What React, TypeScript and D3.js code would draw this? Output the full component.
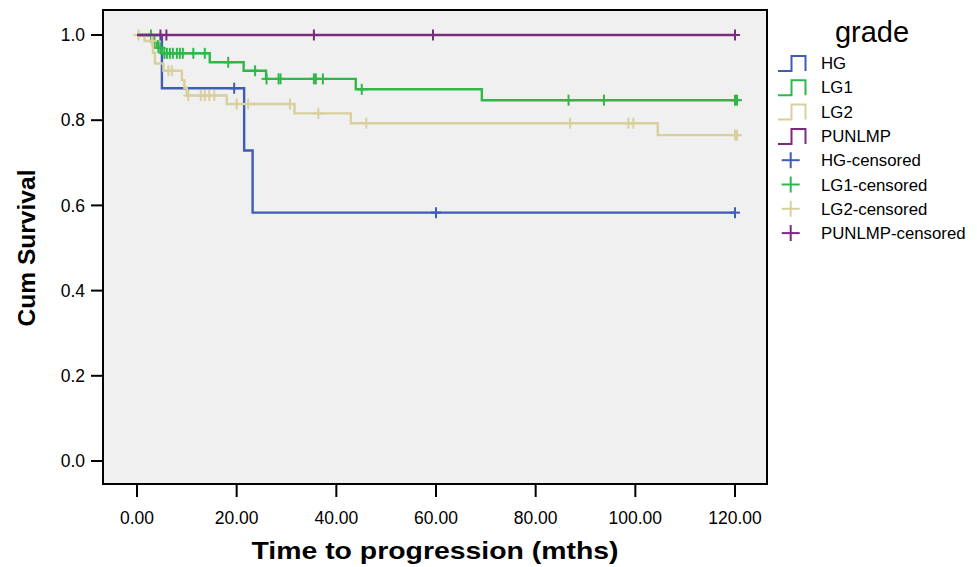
import React from "react";
import * as d3 from "d3";

// Kaplan-Meier curves: event times (months) and survival after each event
const hgTimes = [0, 5.0, 21.5, 23.2];
const hgSurv = [1, 0.875, 0.729, 0.583];
const hgCensored = [19.5, 60, 120];

const lg1Times = [0, 3.0, 4.0, 5.0, 14.6, 21.4, 25.9, 43.9, 69.2];
const lg1Surv = [1, 0.985, 0.97, 0.957, 0.936, 0.916, 0.897, 0.8725, 0.847];
const lg1Censored = [
  2.8, 3.5, 4.3, 4.7, 5.5, 6.0, 6.6, 7.2, 8.0, 8.6, 9.2, 11.3, 13.6, 18.3, 23.7,
  26.0, 28.4, 28.8, 35.5, 35.9, 37.3, 45.1, 86.6, 93.7, 120, 120.4,
];

const lg2Times = [0, 1.5, 3.2, 3.6, 5.3, 9.0, 9.5, 10.0, 18.0, 31.6, 42.9, 104.5];
const lg2Surv = [1, 0.986, 0.958, 0.933, 0.916, 0.894, 0.876, 0.858, 0.838, 0.816, 0.793, 0.765];
const lg2Censored = [
  0.3, 3.0, 6.3, 7.0, 10.3, 12.8, 13.6, 14.5, 15.5, 20.0, 22.3, 30.7, 36.4, 46.0,
  86.9, 98.6, 99.6, 120, 120.4,
];

const punTimes = [0];
const punSurv = [1];
const punCensored = [4.7, 5.9, 35.5, 59.4, 120];

const groupNames = ["HG", "LG1", "LG2", "PUNLMP"];
const groupColors = ["#3f5cb6", "#2fb84a", "#d8d09c", "#7b2a7f"];
const xTicks = [0, 20, 40, 60, 80, 100, 120];
const yTicks = [0, 0.2, 0.4, 0.6, 0.8, 1.0];

const series = [
  { times: hgTimes, surv: hgSurv, censored: hgCensored },
  { times: lg1Times, surv: lg1Surv, censored: lg1Censored },
  { times: lg2Times, surv: lg2Surv, censored: lg2Censored },
  { times: punTimes, surv: punSurv, censored: punCensored },
];

const frame = { left: 103, right: 767, top: 10, bottom: 484 };

const x = d3.scaleLinear().domain([0, 120]).range([137, 735]);
const y = d3.scaleLinear().domain([0, 1]).range([461, 35]);

const levelAt = (times: number[], surv: number[], t: number) => {
  const i = d3.bisectRight(times, t) - 1;
  return surv[Math.max(0, i)];
};

const stepLine = d3
  .line<[number, number]>()
  .x((d) => x(d[0]))
  .y((d) => y(d[1]))
  .curve(d3.curveStepAfter);

const Cross = ({ cx, cy, color, w = 5, h = 5.5 }) => (
  <g stroke={color} strokeWidth={2}>
    <line x1={cx - w} x2={cx + w} y1={cy} y2={cy} />
    <line x1={cx} x2={cx} y1={cy - h} y2={cy + h} />
  </g>
);

const App = () => {
  const legendRows = [
    ...groupNames.map((n, i) => ({ label: n, color: groupColors[i], kind: "step" })),
    ...groupNames.map((n, i) => ({ label: n + "-censored", color: groupColors[i], kind: "cross" })),
  ];

  return (
    <svg
      width={977}
      height={567}
      style={{ position: "absolute", left: 0, top: 0, background: "#fff" }}
      fontFamily="Arial, 'Liberation Sans', sans-serif"
    >
      <rect
        x={frame.left}
        y={frame.top}
        width={frame.right - frame.left}
        height={frame.bottom - frame.top}
        fill="#f0f0f0"
      />

      {series.map((s, i) => {
        const end = d3.max(s.censored) as number;
        const pts: [number, number][] = s.times.map((t, j) => [t, s.surv[j]]);
        pts.push([Math.min(end, 120), s.surv[s.surv.length - 1]]);
        return (
          <g key={i}>
            <path d={stepLine(pts) || ""} fill="none" stroke={groupColors[i]} strokeWidth={2.4} />
            {s.censored.map((c, k) => (
              <Cross key={k} cx={x(c)} cy={y(levelAt(s.times, s.surv, c))} color={groupColors[i]} />
            ))}
          </g>
        );
      })}

      {/* frame */}
      <rect
        x={frame.left}
        y={frame.top}
        width={frame.right - frame.left}
        height={frame.bottom - frame.top}
        fill="none"
        stroke="#000"
        strokeWidth={2}
      />

      {/* y axis */}
      {yTicks.map((t) => (
        <g key={t}>
          <line x1={91} x2={frame.left} y1={y(t)} y2={y(t)} stroke="#000" strokeWidth={2} />
          <text x={85} y={y(t)} dy="0.35em" textAnchor="end" fontSize={17.5}>
            {d3.format(".1f")(t)}
          </text>
        </g>
      ))}

      {/* x axis */}
      {xTicks.map((t) => (
        <g key={t}>
          <line x1={x(t)} x2={x(t)} y1={frame.bottom} y2={frame.bottom + 13} stroke="#000" strokeWidth={2} />
          <text x={x(t)} y={524} textAnchor="middle" fontSize={17.5}>
            {d3.format(".2f")(t)}
          </text>
        </g>
      ))}

      <text
        x={435}
        y={559}
        textAnchor="middle"
        fontSize={24}
        fontWeight="bold"
        textLength={367}
        lengthAdjust="spacingAndGlyphs"
      >
        Time to progression (mths)
      </text>
      <text
        transform="translate(35,248) rotate(-90)"
        textAnchor="middle"
        fontSize={24}
        fontWeight="bold"
        textLength={157}
        lengthAdjust="spacingAndGlyphs"
      >
        Cum Survival
      </text>

      {/* legend */}
      <text x={872} y={42} textAnchor="middle" fontSize={29}>
        grade
      </text>
      {legendRows.map((r, i) => {
        const cy = 63 + i * 24.3;
        return (
          <g key={r.label}>
            {r.kind === "step" ? (
              <path
                d={`M778,${cy + 8} H791.5 V${cy - 7} H805.5 V${cy + 8}`}
                fill="none"
                stroke={r.color}
                strokeWidth={2}
              />
            ) : (
              <Cross cx={790.7} cy={cy} color={r.color} w={9} h={8} />
            )}
            <text x={821} y={cy} dy="0.36em" fontSize={16.8}>
              {r.label}
            </text>
          </g>
        );
      })}
    </svg>
  );
};

export default App;
